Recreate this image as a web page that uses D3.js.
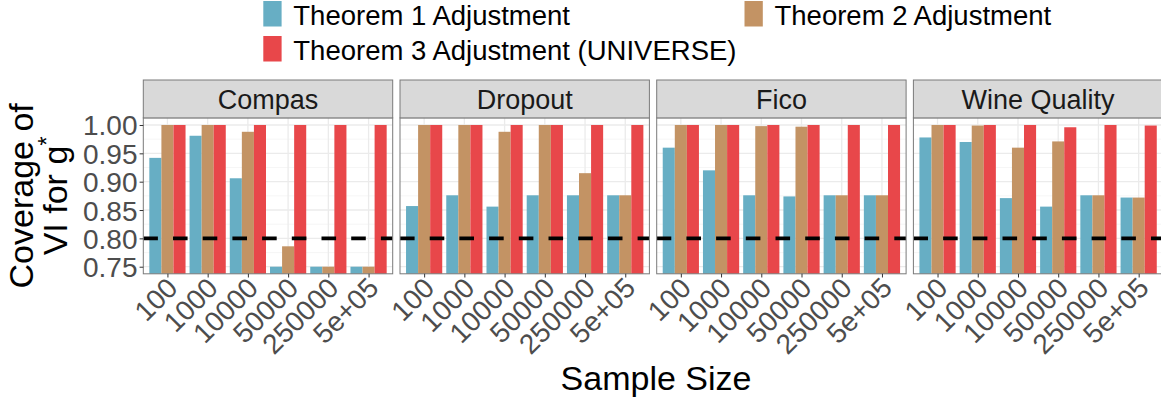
<!DOCTYPE html>
<html>
<head>
<meta charset="utf-8">
<script src="https://cdn.jsdelivr.net/npm/d3@7/dist/d3.min.js"></script>
<style>
  html, body { margin: 0; padding: 0; background: #ffffff; }
  svg { display: block; font-family: "Liberation Sans", Arial, Helvetica, sans-serif; }
</style>
</head>
<body>
<svg id="chart" width="1161" height="402"></svg>
<script>
// Sample sizes on the x axis of every facet
const categories = ["100", "1000", "10000", "50000", "250000", "5e+05"];
// Facet (dataset) names
const panels = ["Compas", "Dropout", "Fico", "Wine Quality"];
// Series names and fill colours
const seriesNames = ["Theorem 1 Adjustment", "Theorem 2 Adjustment", "Theorem 3 Adjustment (UNIVERSE)"];
const seriesColors = ["#67AEC4", "#C39364", "#E8474A"];

// Coverage per facet (rows follow `panels`, columns follow `categories`)
const theorem1 = [
  [0.942, 0.981, 0.906, 0.750, 0.750, 0.750],
  [0.857, 0.876, 0.856, 0.876, 0.876, 0.876],
  [0.960, 0.920, 0.876, 0.874, 0.876, 0.876],
  [0.978, 0.970, 0.871, 0.856, 0.876, 0.872]
];
const theorem2 = [
  [1.000, 1.000, 0.988, 0.786, 0.750, 0.750],
  [1.000, 1.000, 0.988, 1.000, 0.915, 0.876],
  [1.000, 1.000, 0.998, 0.997, 0.876, 0.876],
  [1.000, 0.999, 0.960, 0.971, 0.876, 0.872]
];
const theorem3 = [
  [1.000, 1.000, 1.000, 1.000, 1.000, 1.000],
  [1.000, 1.000, 1.000, 1.000, 1.000, 1.000],
  [1.000, 1.000, 1.000, 1.000, 1.000, 1.000],
  [1.000, 1.000, 1.000, 0.996, 1.000, 0.999]
];
// Y axis breaks and the nominal coverage reference line
const yTicks = [0.75, 0.80, 0.85, 0.90, 0.95, 1.00];
const yMinor = [0.775, 0.825, 0.875, 0.925, 0.975];
const targetCoverage = 0.80;

const seriesValues = [theorem1, theorem2, theorem3];

const svg = d3.select("#chart");

// Layout
const panelLeft = 143.3, panelW = 249.4, panelGap = 7.3;
const stripTop = 80, panelTop = 117.9, panelBottom = 273.8;

const y = d3.scaleLinear().domain([0.7375, 1.0125]).range([panelBottom, panelTop]);

// Discrete axis with ggplot-style 0.6 expansion on each side
const x = d3.scalePoint().domain(categories).range([0, panelW]).padding(0.6);
const unit = x.step();
const dodge = d3.scaleBand().domain(d3.range(seriesNames.length))
  .range([-0.45 * unit, 0.45 * unit]).paddingInner(0).paddingOuter(0);

const tickFont = 28;
const defs = svg.append("defs");

panels.forEach((name, p) => {
  const x0 = panelLeft + p * (panelW + panelGap);
  const g = svg.append("g").attr("transform", `translate(${x0},0)`);

  defs.append("clipPath").attr("id", `clip${p}`)
    .append("rect").attr("x", 0).attr("y", panelTop).attr("width", panelW).attr("height", panelBottom - panelTop);

  const body = g.append("g").attr("clip-path", `url(#clip${p})`);

  // Grid lines
  body.selectAll("line.minor").data(yMinor).join("line")
    .attr("x1", 0).attr("x2", panelW)
    .attr("y1", d => y(d)).attr("y2", d => y(d))
    .attr("stroke", "#F2F2F2").attr("stroke-width", 0.7);
  body.selectAll("line.majorY").data(yTicks).join("line")
    .attr("x1", 0).attr("x2", panelW)
    .attr("y1", d => y(d)).attr("y2", d => y(d))
    .attr("stroke", "#EBEBEB").attr("stroke-width", 1.3);
  body.selectAll("line.majorX").data(categories).join("line")
    .attr("x1", d => x(d)).attr("x2", d => x(d))
    .attr("y1", panelTop).attr("y2", panelBottom)
    .attr("stroke", "#EBEBEB").attr("stroke-width", 1.3);

  // Bars
  seriesValues.forEach((vals, s) => {
    body.append("g").selectAll("rect")
      .data(categories.map((c, i) => ({ c, v: vals[p][i] })))
      .join("rect")
      .attr("x", d => x(d.c) + dodge(s))
      .attr("width", dodge.bandwidth())
      .attr("y", d => y(d.v))
      .attr("height", d => panelBottom + 5 - y(d.v))
      .attr("fill", seriesColors[s]);
  });

  // Reference line at the nominal coverage
  body.append("line")
    .attr("x1", 0).attr("x2", panelW)
    .attr("y1", y(targetCoverage)).attr("y2", y(targetCoverage))
    .attr("stroke", "#000").attr("stroke-width", 3.6)
    .attr("stroke-dasharray", "14.6,15.1");

  // Panel border
  g.append("rect").attr("x", 0).attr("y", panelTop).attr("width", panelW).attr("height", panelBottom - panelTop)
    .attr("fill", "none").attr("stroke", "#7A7A7A").attr("stroke-width", 1);

  // Strip
  g.append("rect").attr("x", 0).attr("y", stripTop).attr("width", panelW).attr("height", panelTop - stripTop)
    .attr("fill", "#D9D9D9").attr("stroke", "#7A7A7A").attr("stroke-width", 1);
  g.append("text")
    .attr("x", panelW / 2).attr("y", (stripTop + panelTop) / 2 + 9.6)
    .attr("text-anchor", "middle").attr("font-size", 27).attr("fill", "#1A1A1A")
    .text(name);

  // X axis ticks and rotated labels
  const xAxis = g.append("g").attr("transform", `translate(0,${panelBottom})`)
    .call(d3.axisBottom(x).tickSize(3.7).tickSizeOuter(0));
  xAxis.select(".domain").remove();
  xAxis.selectAll(".tick line").attr("stroke", "#333").attr("stroke-width", 1);
  xAxis.selectAll(".tick text").remove();
  xAxis.selectAll(".tick").append("text")
    .attr("transform", "translate(0,4.5) rotate(-45)")
    .attr("x", 0).attr("y", 16)
    .attr("text-anchor", "end").attr("font-size", tickFont).attr("fill", "#4D4D4D")
    .text(d => d);
});

// Y axis (left facet only)
const yAxis = svg.append("g").attr("transform", `translate(${panelLeft},0)`)
  .call(d3.axisLeft(y).tickValues(yTicks).tickSize(3.7).tickSizeOuter(0).tickFormat(d3.format(".2f")));
yAxis.select(".domain").remove();
yAxis.selectAll(".tick line").attr("stroke", "#333").attr("stroke-width", 1);
yAxis.selectAll(".tick text").remove();
yAxis.selectAll(".tick").append("text")
  .attr("x", -5.8).attr("y", 10)
  .attr("text-anchor", "end").attr("font-size", tickFont).attr("fill", "#4D4D4D")
  .text(d => d3.format(".2f")(d));

// Y axis title (two lines, rotated)
const yMid = (panelTop + panelBottom) / 2;
const yTitle = svg.append("g").attr("transform", `translate(0,${yMid}) rotate(-90)`)
  .attr("font-size", 34).attr("fill", "#000");
yTitle.append("text").attr("x", 0).attr("y", 33).attr("text-anchor", "middle").text("Coverage of");
const line2 = yTitle.append("text").attr("x", 0).attr("y", 67).attr("text-anchor", "middle");
line2.append("tspan").text("VI for g");
line2.append("tspan").attr("font-size", 24).attr("dy", -12).text("*");

// X axis title
const plotRight = panelLeft + 4 * panelW + 3 * panelGap;
svg.append("text")
  .attr("x", (panelLeft + plotRight) / 2 + 3).attr("y", 390)
  .attr("text-anchor", "middle").attr("font-size", 34).attr("fill", "#000")
  .text("Sample Size");

// Legend: two columns, filled by row
const legendPos = [
  { kx: 263.3, ty: 25 },
  { kx: 744.5, ty: 25 },
  { kx: 263.3, ty: 60 }
];
const legend = svg.append("g");
seriesNames.forEach((nm, i) => {
  const pos = legendPos[i];
  legend.append("rect")
    .attr("x", pos.kx).attr("y", pos.ty - 24).attr("width", 18.3).attr("height", 25.5)
    .attr("fill", seriesColors[i]);
  legend.append("text")
    .attr("x", pos.kx + 30).attr("y", pos.ty)
    .attr("font-size", 27.5).attr("fill", "#000")
    .text(nm);
});
</script>
</body>
</html>
